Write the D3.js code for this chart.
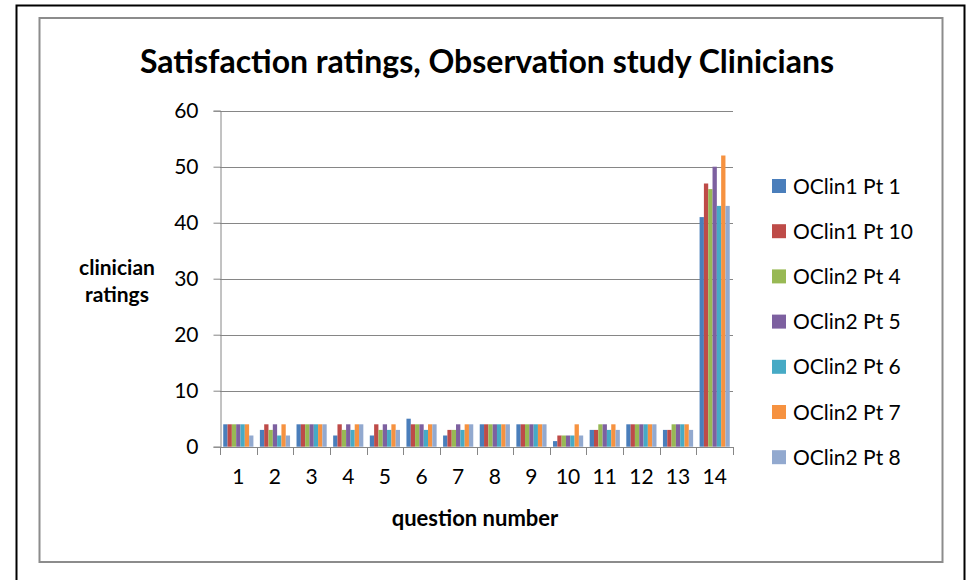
<!DOCTYPE html>
<html>
<head>
<meta charset="utf-8">
<script src="https://cdn.jsdelivr.net/npm/d3@7"></script>
<style>
  html, body { margin: 0; padding: 0; background: #fff; }
  svg { display: block; font-family: Lato, "Open Sans", sans-serif; }
</style>
</head>
<body>
<svg id="chart" width="967" height="580"></svg>
<script>
const questions = ['1', '2', '3', '4', '5', '6', '7', '8', '9', '10', '11', '12', '13', '14']
const seriesNames = ['OClin1 Pt 1', 'OClin1 Pt 10', 'OClin2 Pt 4', 'OClin2 Pt 5', 'OClin2 Pt 6', 'OClin2 Pt 7', 'OClin2 Pt 8']
const colors = ['#4a7ebb', '#be4b48', '#98b954', '#7d60a0', '#46aac5', '#f69240', '#92a9cf']

// one array per series, values per question 1..14
const oclin1pt1  = [4, 3, 4, 2, 2, 5, 2, 4, 4, 1, 3, 4, 3, 41]
const oclin1pt10 = [4, 4, 4, 4, 4, 4, 3, 4, 4, 2, 3, 4, 3, 47]
const oclin2pt4  = [4, 3, 4, 3, 3, 4, 3, 4, 4, 2, 4, 4, 4, 46]
const oclin2pt5  = [4, 4, 4, 4, 4, 4, 4, 4, 4, 2, 4, 4, 4, 50]
const oclin2pt6  = [4, 2, 4, 3, 3, 3, 3, 4, 4, 2, 3, 4, 4, 43]
const oclin2pt7  = [4, 4, 4, 4, 4, 4, 4, 4, 4, 4, 4, 4, 4, 52]
const oclin2pt8  = [2, 2, 4, 4, 3, 4, 4, 4, 4, 2, 3, 4, 3, 43]
const seriesValues = [oclin1pt1, oclin1pt10, oclin2pt4, oclin2pt5, oclin2pt6, oclin2pt7, oclin2pt8]
const yTicks = [0, 10, 20, 30, 40, 50, 60]

const svg = d3.select('#chart')
const gridColor = '#868686'

// frames
svg.append('rect')
  .attr('x', 16.5).attr('y', 5.5).attr('width', 948).attr('height', 600)
  .attr('fill', 'none').attr('stroke', '#000').attr('stroke-width', 2)
svg.append('rect')
  .attr('x', 39.5).attr('y', 18).attr('width', 903).attr('height', 544)
  .attr('fill', 'none').attr('stroke', '#8c8c8c').attr('stroke-width', 2)

const plotLeft = 220
const plotRight = 733
const plotTop = 110.7
const plotBottom = 446.7

const x0 = d3.scaleBand().domain(questions).range([plotLeft, plotRight]).padding(0)
const x1 = d3.scaleBand().domain(d3.range(seriesNames.length))
  .range([0, x0.bandwidth()]).paddingInner(0).paddingOuter(0.75)
const y = d3.scaleLinear().domain([0, 60]).range([plotBottom, plotTop])

// gridlines
svg.append('g')
  .selectAll('line')
  .data(yTicks.filter(d => d > 0))
  .join('line')
  .attr('x1', plotLeft).attr('x2', plotRight)
  .attr('y1', d => Math.round(y(d)) + 0.5).attr('y2', d => Math.round(y(d)) + 0.5)
  .attr('stroke', gridColor).attr('stroke-width', 1)

// y axis
const yAxis = svg.append('g')
  .attr('transform', `translate(${plotLeft + 0.5},0)`)
  .call(d3.axisLeft(y).tickValues(yTicks).tickSize(7).tickPadding(15))
yAxis.select('.domain').attr('stroke', gridColor)
yAxis.selectAll('.tick line').attr('stroke', gridColor)
yAxis.selectAll('.tick text')
  .attr('fill', '#000').attr('font-size', 21).attr('font-family', 'Lato')

// bars
svg.append('g')
  .selectAll('g')
  .data(seriesValues)
  .join('g')
  .attr('fill', (d, i) => colors[i])
  .selectAll('rect')
  .data((vals, si) => vals.map((v, qi) => ({ si, q: questions[qi], v })))
  .join('rect')
  .attr('x', d => x0(d.q) + x1(d.si))
  .attr('width', x1.bandwidth())
  .attr('y', d => y(d.v))
  .attr('height', d => y(0) - y(d.v))

// x axis, ticks between groups
const xg = svg.append('g')
const bounds = questions.map(q => x0(q)).concat([plotRight])
xg.append('line')
  .attr('x1', plotLeft).attr('x2', plotRight)
  .attr('y1', Math.round(plotBottom) + 0.5).attr('y2', Math.round(plotBottom) + 0.5)
  .attr('stroke', gridColor)
xg.selectAll('line.tk')
  .data(bounds)
  .join('line')
  .attr('class', 'tk')
  .attr('x1', d => Math.round(d) + 0.5).attr('x2', d => Math.round(d) + 0.5)
  .attr('y1', Math.round(plotBottom)).attr('y2', Math.round(plotBottom) + 8)
  .attr('stroke', gridColor)
xg.selectAll('text')
  .data(questions)
  .join('text')
  .attr('x', d => x0(d) + x0.bandwidth() / 2)
  .attr('y', 484)
  .attr('text-anchor', 'middle')
  .attr('font-size', 21)
  .text(d => d)

// titles
svg.append('text')
  .attr('x', 487).attr('y', 73)
  .attr('text-anchor', 'middle')
  .attr('font-size', 32).attr('font-weight', 'bold')
  .text('Satisfaction ratings, Observation study Clinicians')

svg.append('text')
  .attr('x', 475).attr('y', 526)
  .attr('text-anchor', 'middle')
  .attr('font-size', 22).attr('font-weight', 'bold')
  .text('question number')

const yTitle = svg.append('text')
  .attr('text-anchor', 'middle')
  .attr('font-size', 21).attr('font-weight', 'bold')
yTitle.append('tspan').attr('x', 117).attr('y', 275).text('clinician')
yTitle.append('tspan').attr('x', 117).attr('y', 302).text('ratings')

// legend
const legend = svg.append('g')
  .selectAll('g')
  .data(seriesNames)
  .join('g')
  .attr('transform', (d, i) => `translate(772,${186 + i * 45.2})`)
legend.append('rect')
  .attr('x', 0).attr('y', -7).attr('width', 14).attr('height', 14)
  .attr('fill', (d, i) => colors[i])
legend.append('text')
  .attr('x', 21).attr('y', 7.5)
  .attr('font-size', 21)
  .text(d => d)
</script>
</body>
</html>
